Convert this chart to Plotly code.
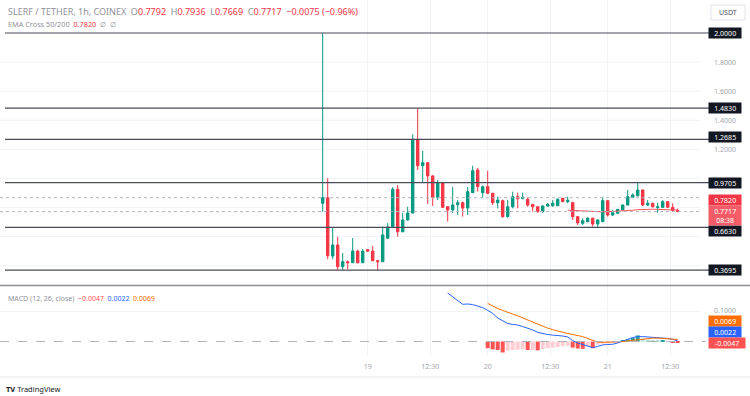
import plotly.graph_objects as go
import pandas as pd

W, H = 750, 396

# ---------------- data ----------------
start_time = pd.Timestamp("2024-03-18 15:00")

opens = [0.829, 0.867, 0.466, 0.542, 0.393, 0.427, 0.420, 0.500, 0.420, 0.510,
         0.500, 0.434, 0.427, 0.588, 0.668, 0.925, 0.633, 0.714, 0.762, 1.2685,
         1.087, 1.108, 1.017, 0.870, 0.970, 0.806, 0.783, 0.819, 0.833, 0.796,
         0.902, 1.058, 0.902, 0.943, 0.898, 0.833, 0.847, 0.737, 0.805, 0.874,
         0.862, 0.856, 0.820, 0.805, 0.771, 0.810, 0.812, 0.812, 0.863, 0.840,
         0.833, 0.737, 0.691, 0.702, 0.726, 0.686, 0.702, 0.847, 0.748, 0.760,
         0.783, 0.817, 0.870, 0.880, 0.920, 0.817, 0.829, 0.800, 0.801, 0.840,
         0.801, 0.7792]
highs = [2.000, 1.001, 0.661, 0.599, 0.487, 0.435, 0.590, 0.510, 0.514, 0.514,
         0.535, 0.440, 0.668, 0.693, 0.940, 0.955, 0.762, 0.805, 1.303, 1.483,
         1.190, 1.112, 1.023, 0.989, 0.975, 0.810, 0.941, 0.851, 0.840, 0.941,
         1.087, 1.072, 0.950, 1.053, 0.900, 0.874, 0.855, 0.851, 0.909, 0.902,
         0.902, 0.870, 0.825, 0.810, 0.815, 0.830, 0.851, 0.863, 0.866, 0.874,
         0.840, 0.740, 0.726, 0.735, 0.730, 0.720, 0.874, 0.850, 0.783, 0.790,
         0.820, 0.920, 0.898, 0.9705, 0.925, 0.851, 0.832, 0.833, 0.851, 0.845,
         0.829, 0.7936]
lows = [0.771, 0.444, 0.444, 0.3695, 0.370, 0.375, 0.418, 0.415, 0.418, 0.495,
        0.430, 0.370, 0.425, 0.585, 0.660, 0.599, 0.630, 0.710, 0.760, 1.058,
        0.973, 0.824, 0.810, 0.851, 0.796, 0.702, 0.762, 0.748, 0.737, 0.748,
        0.900, 0.909, 0.865, 0.890, 0.817, 0.794, 0.730, 0.730, 0.794, 0.794,
        0.855, 0.805, 0.771, 0.765, 0.764, 0.805, 0.805, 0.810, 0.838, 0.829,
        0.714, 0.679, 0.679, 0.700, 0.668, 0.663, 0.700, 0.737, 0.741, 0.755,
        0.780, 0.815, 0.868, 0.878, 0.810, 0.810, 0.800, 0.764, 0.800, 0.798,
        0.778, 0.7669]
closes = [0.867, 0.468, 0.542, 0.393, 0.427, 0.420, 0.500, 0.420, 0.500, 0.500,
          0.434, 0.427, 0.611, 0.666, 0.925, 0.633, 0.714, 0.762, 1.2685, 1.087,
          1.108, 1.017, 0.870, 0.970, 0.801, 0.783, 0.817, 0.833, 0.796, 0.909,
          1.053, 0.943, 0.943, 0.898, 0.833, 0.851, 0.737, 0.805, 0.874, 0.860,
          0.870, 0.817, 0.805, 0.771, 0.810, 0.822, 0.829, 0.856, 0.840, 0.850,
          0.737, 0.695, 0.709, 0.726, 0.686, 0.714, 0.847, 0.748, 0.764, 0.787,
          0.817, 0.874, 0.886, 0.920, 0.817, 0.829, 0.805, 0.805, 0.840, 0.801,
          0.7792, 0.7717]

ema_start = 49
ema50 = [0.781, 0.779, 0.776, 0.774, 0.772, 0.771, 0.770, 0.770, 0.771, 0.772,
         0.773, 0.775, 0.778, 0.781, 0.785, 0.787, 0.788, 0.788, 0.787, 0.786,
         0.785, 0.784, 0.7820]

macd_start = 25
macd_line = [0.159, 0.147, 0.136, 0.122, 0.123, 0.121, 0.116, 0.111, 0.102, 0.092,
             0.077, 0.067, 0.059, 0.056, 0.054, 0.049, 0.044, 0.038, 0.030, 0.026,
             0.023, 0.021, 0.020, 0.018, 0.015, 0.003, -0.005, -0.010, -0.015, -0.020,
             -0.016, -0.011, -0.010, -0.009, -0.005, 0.000, 0.007, 0.013, 0.016, 0.016,
             0.015, 0.013, 0.011, 0.010, 0.010, 0.007, 0.0022]
signal_start = 33
signal_line = [0.125, 0.116, 0.108, 0.102, 0.095, 0.090, 0.084, 0.077, 0.070, 0.064,
               0.057, 0.051, 0.044, 0.039, 0.034, 0.029, 0.026, 0.023, 0.020, 0.016,
               0.010, 0.003, -0.002, -0.003, -0.003, -0.002, -0.001, 0.000, 0.002, 0.004,
               0.007, 0.009, 0.010, 0.011, 0.011, 0.010, 0.010, 0.009, 0.0069]
hist_values = [-0.022, -0.026, -0.028, -0.036, -0.030, -0.028, -0.027, -0.026, -0.028, -0.028,
               -0.029, -0.025, -0.022, -0.020, -0.018, -0.016, -0.014, -0.020, -0.023, -0.024,
               -0.016, -0.022, -0.010, -0.007, -0.006, -0.005, -0.004, 0.003, 0.007, 0.012,
               0.020, 0.010, 0.006, 0.004, 0.002, 0.003, 0.001, -0.003, -0.0047]

levels = [2.0, 1.483, 1.2685, 0.9705, 0.663, 0.3695]
level_nudge = [0, 0, 2.5, 0, -4, 0]
dotted_levels = [0.867, 0.7717]

price_ticks = [1.2, 1.4, 1.6, 1.8]
macd_ticks = [0.1]
time_ticks = ["2024-03-19 00:00", "2024-03-19 12:30", "2024-03-20 00:00",
              "2024-03-20 12:30", "2024-03-21 00:00", "2024-03-21 12:30"]
time_tick_text = ["19", "12:30", "20", "12:30", "21", "12:30"]
grid_prices = [0.4, 0.6, 0.8, 1.0, 1.2, 1.4, 1.6, 1.8]

# ---------------- styles ----------------
GREEN = "#089981"
RED = "#f23645"
GRID = "#f2f3f6"
AXT = "#a3a6af"
FONT = "Noto Sans"

times = [start_time + pd.Timedelta(hours=i) for i in range(len(opens))]

def ypx(px):
    return 1 - px / H

fig = go.Figure()
fig.add_trace(go.Candlestick(
    x=times, open=opens, high=highs, low=lows, close=closes,
    increasing=dict(line=dict(color=GREEN, width=1), fillcolor=GREEN),
    decreasing=dict(line=dict(color=RED, width=1), fillcolor=RED),
    xaxis="x", yaxis="y", showlegend=False, hoverinfo="skip"))
fig.add_trace(go.Scatter(
    x=times[ema_start:], y=ema50, mode="lines",
    line=dict(color="#f7525f", width=1), xaxis="x", yaxis="y",
    showlegend=False, hoverinfo="skip"))

hist_colors = []
prev = 0.0
for v in hist_values:
    if v >= 0:
        hist_colors.append("#26a69a" if v > prev else "#b2dfdb")
    else:
        hist_colors.append("#ff5252" if v < prev else "#ffcdd2")
    prev = v

fig.add_trace(go.Bar(
    x=times[signal_start:], y=hist_values, marker=dict(color=hist_colors, line=dict(width=0)),
    width=3600000 * 0.8, xaxis="x2", yaxis="y2", showlegend=False, hoverinfo="skip"))
fig.add_trace(go.Scatter(
    x=times[macd_start:], y=macd_line, mode="lines",
    line=dict(color="#2962ff", width=1), xaxis="x2", yaxis="y2",
    showlegend=False, hoverinfo="skip"))
fig.add_trace(go.Scatter(
    x=times[signal_start:], y=signal_line, mode="lines",
    line=dict(color="#ff6d00", width=1), xaxis="x2", yaxis="y2",
    showlegend=False, hoverinfo="skip"))

# axis geometry
x_lo = start_time + pd.Timedelta(hours=(0 - 322.7) / 5)
x_hi = start_time + pd.Timedelta(hours=(700 - 322.7) / 5)
main_rng = [2.0 - (285 - 33) / 145.4, 2.0 + 33 / 145.4]
macd_rng = [(341.5 - 356) / 305, (341.5 - 286) / 305]

fig.update_layout(
    width=W, height=H, margin=dict(l=0, r=0, t=0, b=0),
    paper_bgcolor="white", plot_bgcolor="white",
    font=dict(family=FONT, size=7, color=AXT),
    bargap=0.2,
    xaxis=dict(domain=[0, 700 / W], range=[x_lo, x_hi], anchor="y",
               showticklabels=False, tickvals=time_ticks, showgrid=True,
               gridcolor=GRID, zeroline=False, showline=False,
               rangeslider=dict(visible=False)),
    xaxis2=dict(domain=[0, 700 / W], range=[x_lo, x_hi], matches="x", anchor="y2",
                tickvals=time_ticks, ticktext=time_tick_text,
                tickfont=dict(size=7, color=AXT, family=FONT),
                showgrid=True, gridcolor=GRID, zeroline=False, showline=False,
                ticks="", ticklabelstandoff=5),
    yaxis=dict(domain=[ypx(285), 1], range=main_rng, anchor="x", side="right",
               tickvals=price_ticks, ticktext=[f"{v:.4f}" for v in price_ticks],
               tickfont=dict(size=7, color=AXT, family=FONT),
               showgrid=False, zeroline=False, ticks="",
               ticklabelstandoff=13),
    yaxis2=dict(domain=[ypx(356), ypx(286)], range=macd_rng, anchor="x2", side="right",
                tickvals=macd_ticks, ticktext=[f"{v:.4f}" for v in macd_ticks],
                tickfont=dict(size=7, color=AXT, family=FONT),
                showgrid=True, gridcolor=GRID, zeroline=False, ticks="",
                ticklabelstandoff=13),
)

shapes = []
for gp in grid_prices:
    shapes.append(dict(type="line", xref="paper", yref="y", x0=0, x1=700 / W,
                       y0=gp, y1=gp, layer="below", line=dict(color=GRID, width=1)))
for lv in levels:
    shapes.append(dict(type="line", xref="paper", yref="y", x0=5 / W, x1=709 / W,
                       y0=lv, y1=lv, line=dict(color="#4a4d57", width=1.2)))
for lv in dotted_levels:
    shapes.append(dict(type="line", xref="paper", yref="y", x0=0, x1=700 / W,
                       y0=lv, y1=lv, line=dict(color="#b2b5be", width=1, dash="dot")))
shapes.append(dict(type="line", xref="paper", yref="y2", x0=0, x1=706 / W,
                   y0=0, y1=0, line=dict(color="#b2b5be", width=1, dash="dash")))
shapes.append(dict(type="line", xref="paper", yref="paper", x0=0, x1=1,
                   y0=ypx(285.5), y1=ypx(285.5), line=dict(color="#8a8d96", width=1.6)))
shapes.append(dict(type="line", xref="paper", yref="paper", x0=0, x1=1,
                   y0=ypx(377), y1=ypx(377), line=dict(color="#e6e8ee", width=1)))
shapes.append(dict(type="rect", xref="paper", yref="paper", x0=711 / W, x1=745 / W,
                   y0=ypx(20), y1=ypx(5), line=dict(color="#e0e3eb", width=1),
                   fillcolor="white"))
fig.update_layout(shapes=shapes)

ann = []
def box(text, y, yref, bg, yshift=0, width=30, height=8, color="white"):
    ann.append(dict(text=text, x=708 / W, xref="paper", xanchor="left",
                    y=y, yref=yref, yanchor="middle", yshift=yshift,
                    showarrow=False, bgcolor=bg, borderpad=1.2,
                    width=width, height=height, align="center",
                    font=dict(size=7, color=color, family=FONT)))

for lv, nd in zip(levels, level_nudge):
    box(f"{lv:.4f}", lv, "y", "#131722", yshift=nd)
box(f"{ema50[-1]:.4f}", ypx(200.3), "paper", "#f23645")
box(f"{closes[-1]:.4f}<br>08:38", ypx(215.5), "paper", "#f45c68", height=17)
box(f"{signal_line[-1]:.4f}", ypx(320.5), "paper", "#ff6d00")
box(f"{macd_line[-1]:.4f}", ypx(331.7), "paper", "#2962ff")
box(f"{hist_values[-1]:.4f}", ypx(342.5), "paper", "#ff5252", width=34)

ann.append(dict(text="USDT", x=728 / W, y=ypx(12.5), xref="paper", yref="paper",
                xanchor="center", yanchor="middle",
                showarrow=False, font=dict(size=7, color="#50535e", family=FONT)))

GREY = "#8f929b"
def rv(v, c=RED):
    return f"<span style='color:{c}'>{v}</span>"

chg = closes[-1] - closes[-2]
pct = chg / closes[-2] * 100
line1 = ("SLERF / TETHER, 1h, COINEX  O" + rv(f"{opens[-1]:.4f}") + "  H" + rv(f"{highs[-1]:.4f}")
         + "  L" + rv(f"{lows[-1]:.4f}") + "  C" + rv(f"{closes[-1]:.4f}")
         + "  " + rv(f"{chg:.4f} ({pct:.2f}%)".replace("-", "−")))
line2 = "EMA Cross 50/200  " + rv(f"{ema50[-1]:.4f}") + "  ∅  ∅"
line3 = ("MACD (12, 26, close)  " + rv(f"{hist_values[-1]:.4f}".replace("-", "−"), "#ff5252")
         + "  " + rv(f"{macd_line[-1]:.4f}", "#2962ff") + "  " + rv(f"{signal_line[-1]:.4f}", "#ff6d00"))
for txt, y, sz in [(line1, 11.5, 9), (line2, 23.5, 7.3), (line3, 298, 7)]:
    ann.append(dict(text=txt, x=6 / W, y=ypx(y), xref="paper", yref="paper",
                    xanchor="left", yanchor="middle", showarrow=False,
                    font=dict(size=sz, color=GREY, family=FONT)))
ann.append(dict(text="<b>TV</b> TradingView", x=4 / W, y=ypx(389), xref="paper", yref="paper",
                xanchor="left", yanchor="middle", showarrow=False,
                font=dict(size=7.5, color="#131722", family=FONT)))
fig.update_layout(annotations=ann)

fig.write_html("out.html", config={"displayModeBar": False},
               post_script="document.body.style.margin='0px';document.body.style.overflow='hidden';")
